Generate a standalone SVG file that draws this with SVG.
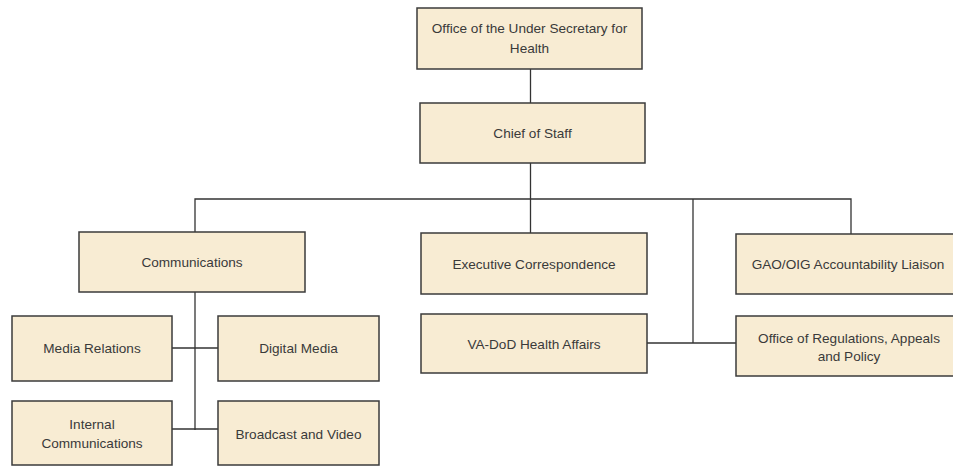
<svg xmlns="http://www.w3.org/2000/svg" width="953" height="466" viewBox="0 0 953 466">
<defs>
<style>
.box{fill:#f8ecd3;stroke:#3b3b3b;stroke-width:1.5}
.t{font-family:"Liberation Sans",Arial,sans-serif;font-size:13.6px;fill:#3a3a3a;text-anchor:middle}
.c{fill:none;stroke:#333;stroke-width:1.3}
</style>
</defs>
<rect width="953" height="466" fill="#ffffff"/>
<g id="connectors">
<line class="c" x1="530.5" y1="69" x2="530.5" y2="103"/>
<line class="c" x1="530.5" y1="163" x2="530.5" y2="233"/>
<polyline class="c" points="195,232 195,199 851,199 851,234"/>
<line class="c" x1="693" y1="199" x2="693" y2="343"/>
<line class="c" x1="647" y1="343" x2="736" y2="343"/>
<line class="c" x1="195" y1="292" x2="195" y2="430"/>
<line class="c" x1="172" y1="348" x2="218" y2="348"/>
<line class="c" x1="172" y1="429" x2="218" y2="429"/>
</g>
<g id="n-usH">
<rect class="box" x="417" y="8" width="225" height="61"/>
<text class="t" x="529.5" y="33">Office of the Under Secretary for</text>
<text class="t" x="529.5" y="53">Health</text>
</g>
<g id="n-cos">
<rect class="box" x="420" y="103" width="225" height="60"/>
<text class="t" x="532.5" y="138">Chief of Staff</text>
</g>
<g id="n-comm">
<rect class="box" x="79" y="232" width="226" height="60"/>
<text class="t" x="192" y="267">Communications</text>
</g>
<g id="n-exec">
<rect class="box" x="421" y="233" width="226" height="61"/>
<text class="t" x="534" y="269">Executive Correspondence</text>
</g>
<g id="n-gao">
<rect class="box" x="736" y="234" width="226" height="60"/>
<text class="t" x="848" y="269">GAO/OIG Accountability Liaison</text>
</g>
<g id="n-vadod">
<rect class="box" x="421" y="314" width="226" height="59"/>
<text class="t" x="534" y="349">VA-DoD Health Affairs</text>
</g>
<g id="n-regs">
<rect class="box" x="736" y="316" width="226" height="60"/>
<text class="t" x="849" y="343">Office of Regulations, Appeals</text>
<text class="t" x="849" y="361">and Policy</text>
</g>
<g id="n-media">
<rect class="box" x="12" y="316" width="160" height="65"/>
<text class="t" x="92" y="353">Media Relations</text>
</g>
<g id="n-digital">
<rect class="box" x="218" y="316" width="161" height="65"/>
<text class="t" x="298.5" y="353">Digital Media</text>
</g>
<g id="n-internal">
<rect class="box" x="12" y="401" width="160" height="64"/>
<text class="t" x="92" y="429">Internal</text>
<text class="t" x="92" y="448">Communications</text>
</g>
<g id="n-broadcast">
<rect class="box" x="218" y="401" width="161" height="64"/>
<text class="t" x="298.5" y="439">Broadcast and Video</text>
</g>
</svg>
